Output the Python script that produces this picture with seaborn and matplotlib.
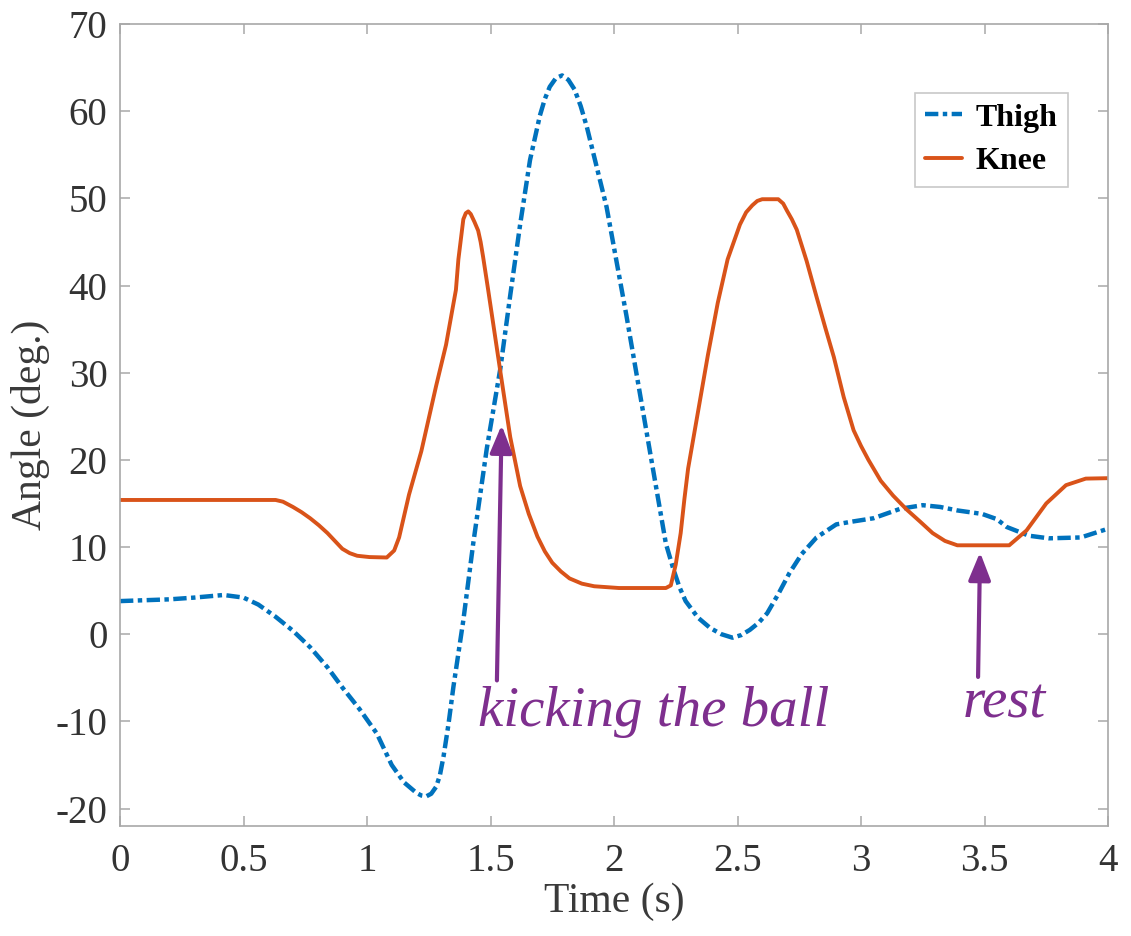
import matplotlib
matplotlib.use("Agg")
import matplotlib.pyplot as plt
import seaborn as sns
import pandas as pd

# ---- data ----
thigh_t = [0.00, 0.10, 0.20, 0.30, 0.42, 0.50, 0.56, 0.63, 0.70, 0.77, 0.84, 0.90,
           0.97, 1.04, 1.10, 1.15, 1.20, 1.22, 1.24, 1.26, 1.28, 1.295, 1.31, 1.33,
           1.35, 1.39, 1.43, 1.485, 1.54, 1.58, 1.62, 1.66, 1.70, 1.72, 1.74, 1.765,
           1.79, 1.815, 1.84, 1.865, 1.89, 1.97, 2.05, 2.13, 2.21, 2.24, 2.265, 2.29,
           2.34, 2.39, 2.435, 2.48, 2.515, 2.55, 2.585, 2.62, 2.665, 2.71, 2.76, 2.82,
           2.90, 2.96, 3.05, 3.16, 3.25, 3.32, 3.39, 3.49, 3.55, 3.59, 3.68, 3.76,
           3.89, 4.00]
thigh_y = [3.8, 3.9, 4.0, 4.2, 4.5, 4.2, 3.4, 2.0, 0.4, -1.5, -3.8, -6.1,
           -8.6, -11.4, -15.0, -17.0, -18.2, -18.5, -18.6, -18.3, -17.5, -16.2, -14.0, -10.3,
           -6.0, 1.6, 10.4, 21.3, 30.5, 38.9, 47.0, 54.4, 59.5, 61.4, 62.8, 63.8,
           64.1, 63.6, 62.5, 60.6, 58.2, 49.0, 36.6, 23.5, 10.4, 7.5, 5.4, 3.8,
           1.9, 0.7, 0.0, -0.4, -0.1, 0.5, 1.3, 2.4, 4.6, 7.0, 9.2, 11.1,
           12.6, 12.9, 13.3, 14.4, 14.8, 14.6, 14.2, 13.8, 13.2, 12.3, 11.3, 11.0,
           11.1, 12.1]

knee_t = [0.00, 0.63, 0.66, 0.70, 0.735, 0.77, 0.805, 0.84, 0.87, 0.90, 0.93, 0.96,
          1.01, 1.08, 1.11, 1.13, 1.17, 1.22, 1.28, 1.32, 1.36, 1.37, 1.39, 1.40,
          1.41, 1.42, 1.435, 1.45, 1.46, 1.47, 1.49, 1.51, 1.54, 1.58, 1.62, 1.655,
          1.69, 1.72, 1.75, 1.785, 1.82, 1.87, 1.92, 2.02, 2.21, 2.23, 2.25, 2.27,
          2.285, 2.30, 2.34, 2.38, 2.42, 2.46, 2.51, 2.535, 2.56, 2.58, 2.60, 2.665,
          2.685, 2.70, 2.72, 2.74, 2.78, 2.82, 2.855, 2.89, 2.93, 2.97, 3.00, 3.03,
          3.08, 3.13, 3.185, 3.24, 3.29, 3.34, 3.39, 3.60, 3.67, 3.75, 3.83, 3.91,
          4.00]
knee_y = [15.4, 15.4, 15.2, 14.6, 14.0, 13.3, 12.5, 11.6, 10.7, 9.8, 9.3, 9.0,
          8.85, 8.8, 9.6, 11.1, 16.0, 21.0, 28.5, 33.2, 39.5, 43.0, 47.6, 48.3,
          48.5, 48.2, 47.3, 46.3, 45.0, 43.3, 39.6, 35.8, 30.1, 22.6, 17.0, 13.8,
          11.2, 9.5, 8.2, 7.2, 6.4, 5.8, 5.5, 5.3, 5.3, 5.6, 8.0, 11.6,
          15.5, 19.0, 25.5, 32.0, 38.0, 43.0, 47.0, 48.4, 49.2, 49.7, 49.9, 49.9,
          49.4, 48.6, 47.6, 46.4, 42.8, 38.7, 35.2, 31.8, 27.2, 23.4, 21.6, 20.0,
          17.6, 15.9, 14.3, 12.9, 11.6, 10.7, 10.2, 10.2, 11.9, 15.0, 17.1, 17.85,
          17.9]

x_ticks = [0, 0.5, 1, 1.5, 2, 2.5, 3, 3.5, 4]
x_tick_labels = ["0", "0.5", "1", "1.5", "2", "2.5", "3", "3.5", "4"]
y_ticks = [-20, -10, 0, 10, 20, 30, 40, 50, 60, 70]
y_tick_labels = ["-20", "-10", "0", "10", "20", "30", "40", "50", "60", "70"]

annotations = [("kicking the ball", (1.545, 24.0), (1.526, -5.3), (1.449, -10.5)),
               ("rest", (3.482, 9.4), (3.474, -4.9), (3.41, -9.6))]

# ---- style ----
sns.set_theme(style="white")
plt.rcParams["font.family"] = ["Liberation Serif", "DejaVu Serif"]
plt.rcParams["axes.unicode_minus"] = False

BLUE = "#0072BD"
ORANGE = "#D95319"
PURPLE = "#7E2F8E"
GRAY = "#A8A8A8"
TXT = "#333333"

fig = plt.figure(figsize=(11.31, 9.36), dpi=100)
ax = fig.add_axes([120 / 1131, 1 - 826 / 936, 988 / 1131, 802 / 936])

df_thigh = pd.DataFrame({"t": thigh_t, "angle": thigh_y})
df_knee = pd.DataFrame({"t": knee_t, "angle": knee_y})

sns.lineplot(data=df_thigh, x="t", y="angle", ax=ax, color=BLUE, lw=3.2, label="Thigh")
sns.lineplot(data=df_knee, x="t", y="angle", ax=ax, color=ORANGE, lw=2.8, label="Knee")
lines = ax.get_lines()
lines[0].set_dashes([3.0, 1.0, 1.0, 1.0])
lines[0].set_dash_capstyle("butt")
for ln in lines:
    ln.set_solid_joinstyle("round")

ax.set_xlim(0, 4)
ax.set_ylim(-22, 70)
ax.set_xticks(x_ticks)
ax.set_xticklabels(x_tick_labels)
ax.set_yticks(y_ticks)
ax.set_yticklabels(y_tick_labels)
ax.tick_params(axis="both", which="both", direction="in", length=7, width=1.1,
               color=GRAY, labelsize=28, labelcolor=TXT, top=True, right=True,
               bottom=True, left=True)
ax.tick_params(axis="x", pad=12)
ax.tick_params(axis="y", pad=9)
for sp in ax.spines.values():
    sp.set_visible(True)
    sp.set_color(GRAY)
    sp.set_linewidth(1.2)

ax.set_xlabel("Time (s)", fontsize=30, color="#3a3a3a", labelpad=2)
ax.set_ylabel("Angle (deg.)", fontsize=30, color="#3a3a3a", labelpad=4)

for text, tip, tail, tpos in annotations:
    ax.annotate("", xy=tip, xytext=tail,
                arrowprops=dict(arrowstyle="-|>,head_length=0.7,head_width=0.28",
                                color=PURPLE, lw=3, mutation_scale=24,
                                shrinkA=0, shrinkB=0))
    ax.text(tpos[0], tpos[1], text, fontsize=41, style="italic", color=PURPLE,
            ha="left", va="baseline")

leg = ax.legend(loc="upper right", bbox_to_anchor=((1068 - 120) / 988, (826 - 93) / 802),
                handlelength=1.15, handletextpad=0.45, borderpad=0.32,
                labelspacing=0.45, frameon=True, fancybox=False, borderaxespad=0,
                prop={"weight": "bold", "size": 23})
leg.get_frame().set_edgecolor("#BBBBBB")
leg.get_frame().set_linewidth(1.2)
for t in leg.get_texts():
    t.set_color("black")

fig.savefig("out.png", dpi=100)
